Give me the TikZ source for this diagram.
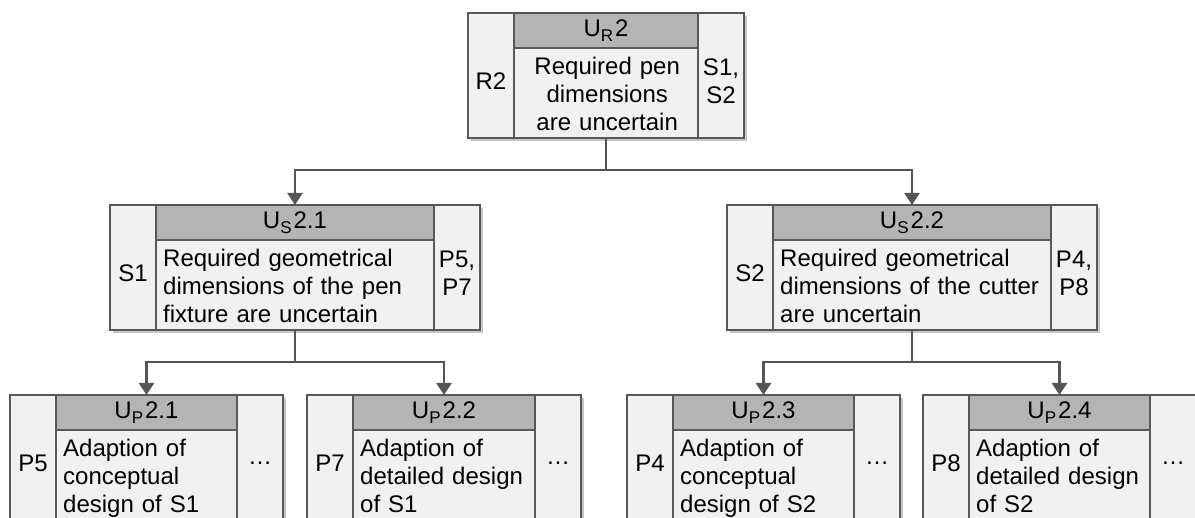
\documentclass[tikz,border=0pt]{standalone}
\usepackage{fontspec}
\setmainfont{Liberation Sans}
\usepackage{tikz}
\usetikzlibrary{positioning, calc, shadows, arrows.meta}

\definecolor{boxline}{RGB}{88,88,88}
\definecolor{boxfill}{RGB}{241,241,241}
\definecolor{headfill}{RGB}{180,180,180}
\definecolor{linkgray}{RGB}{85,85,85}

\newcommand{\boxfont}{\fontsize{24}{28}\selectfont}
\newcommand{\lvl}[1]{\raisebox{-5pt}{\fontsize{17}{17}\selectfont #1}\kern2pt}

% one uncertainty box: name, left x, top y, width, height, left label, header, right label, body
\newcommand{\uncbox}[9]{%
	\pgfmathsetmacro\headw{#4-92}%
	\pgfmathsetmacro\bodyw{#4-104}%
	\node[frame, minimum width=#4pt, minimum height=#5pt] (#1) at (#2,#3) {};
	\node[sidecol, minimum height=#5pt] (#1-l) at (#1.north west) {};
	\node[sidecol, minimum height=#5pt, anchor=north east] (#1-r) at (#1.north east) {};
	\node[headbar, minimum width=\headw pt] (#1-h) at (#1-l.north east) {#7};
	\node[sidelabel] (#1-lt) at ([yshift=-68pt]#1-l.north) {#6};
	\node[sidelabel] (#1-rt) at ([yshift=-68pt]#1-r.north) {#8};
	\node[bodytext, text width=\bodyw pt] (#1-b) at ([xshift=7pt,yshift=-9pt]#1-h.south west) {#9};
}

\begin{document}
\begin{tikzpicture}[
		x=1pt, y=-1pt,
		% Styles
		frame/.style={anchor=north west, draw=boxline, line width=2.6pt, fill=boxfill, outer sep=0pt,
			drop shadow={shadow xshift=3pt, shadow yshift=-3pt, fill=black!45, opacity=.5}},
		sidecol/.style={anchor=north west, draw=boxline, line width=2pt, fill=boxfill, minimum width=46pt, inner sep=0pt, outer sep=0pt},
		headbar/.style={anchor=north west, draw=boxline, line width=2pt, fill=headfill, minimum height=35pt, inner sep=0pt, outer sep=0pt, font=\boxfont},
		sidelabel/.style={align=center, inner sep=0pt, font=\boxfont},
		bodytext/.style={anchor=north west, align=left, inner sep=0pt, font=\boxfont},
		link/.style={draw=linkgray, line width=2.4pt, -{Triangle[length=12pt,width=15pt]}}
	]
	\useasboundingbox (0,0) rectangle (1195,518);
	\clip (0,0) rectangle (1195,518);

	% --- Requirement level ---
	\begin{scope}[bodytext/.append style={align=center}]
		\uncbox{top}{468}{13}{276}{125}{R2}{U\lvl{R}2}{S1,\\S2}{Required pen\\dimensions\\are uncertain}
	\end{scope}

	% --- Solution level ---
	\uncbox{midL}{110}{205}{370}{125}{S1}{U\lvl{S}2.1}{P5,\\P7}{Required geometrical\\dimensions of the pen\\fixture are uncertain}
	\uncbox{midR}{727}{205}{370}{125}{S2}{U\lvl{S}2.2}{P4,\\P8}{Required geometrical\\dimensions of the cutter\\are uncertain}

	% --- Process level ---
	\uncbox{botA}{10}{395}{273}{140}{P5}{U\lvl{P}2.1}{…}{Adaption of\\conceptual\\design of S1}
	\uncbox{botB}{307}{395}{274}{140}{P7}{U\lvl{P}2.2}{…}{Adaption of\\detailed design\\of S1}
	\uncbox{botC}{627}{395}{273}{140}{P4}{U\lvl{P}2.3}{…}{Adaption of\\conceptual\\design of S2}
	\uncbox{botD}{923}{395}{273}{140}{P8}{U\lvl{P}2.4}{…}{Adaption of\\detailed design\\of S2}

	% --- ARROWS ---
	\coordinate (split-top) at ($(top.south)+(0,32)$);
	\draw[link] (top.south) -- (split-top) -| (midL.north);
	\draw[link] (split-top) -| (midR.north);

	\coordinate (split-l) at ($(midL.south)+(0,32)$);
	\draw[link] (midL.south) -- (split-l) -| (botA.north);
	\draw[link] (split-l) -| (botB.north);

	\coordinate (split-r) at ($(midR.south)+(0,32)$);
	\draw[link] (midR.south) -- (split-r) -| (botC.north);
	\draw[link] (split-r) -| (botD.north);

\end{tikzpicture}
\end{document}
